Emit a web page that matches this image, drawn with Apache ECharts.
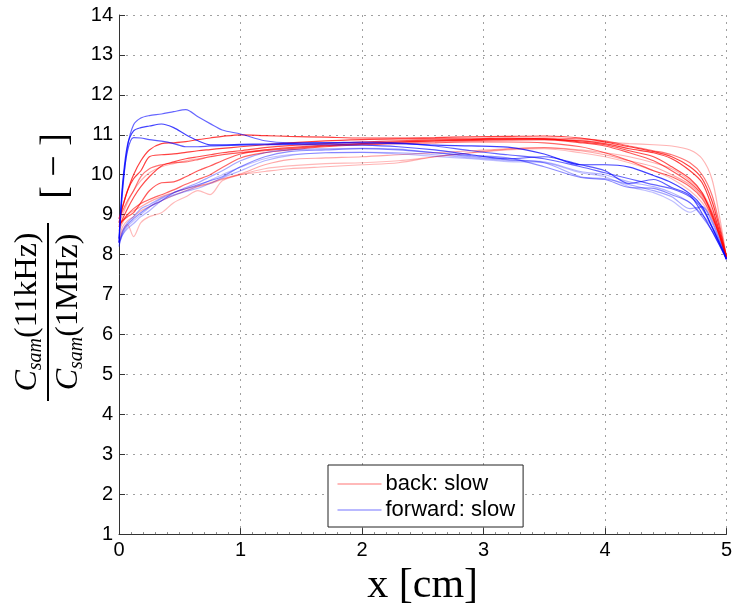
<!DOCTYPE html>
<html>
<head>
<meta charset="utf-8">
<script src="https://cdn.jsdelivr.net/npm/echarts@6/dist/echarts.min.js"></script>
<style>html,body{margin:0;padding:0;background:#fff}#c{width:735px;height:612px}</style>
</head>
<body>
<div id="c"></div>
<script>
// x positions (cm) shared by every curve
const xs = [0, 0.03, 0.07, 0.12, 0.18, 0.25, 0.35, 0.45, 0.55, 0.65, 0.75, 0.85, 1.0, 1.2, 1.4, 1.7, 2.0, 2.3, 2.6, 2.9, 3.2, 3.5, 3.8, 4.0, 4.2, 4.4, 4.55, 4.7, 4.8, 4.88, 4.94, 5.0];

// back: slow (red) curves
const back1 = [8.9, 9.2, 9.6, 10.0, 10.35, 10.62, 10.78, 10.8, 10.83, 10.88, 10.92, 10.96, 11.0, 10.98, 10.96, 10.94, 10.92, 10.92, 10.93, 10.95, 10.96, 10.97, 10.92, 10.82, 10.7, 10.58, 10.45, 10.2, 9.9, 9.35, 8.7, 7.95];
const back2 = [8.8, 9.2, 9.6, 9.9, 10.1, 10.45, 10.5, 10.52, 10.56, 10.6, 10.63, 10.66, 10.7, 10.75, 10.8, 10.85, 10.88, 10.9, 10.9, 10.9, 10.92, 10.9, 10.85, 10.78, 10.65, 10.55, 10.4, 10.1, 9.8, 9.2, 8.6, 7.95];
const back3 = [8.7, 8.9, 9.15, 9.43, 9.7, 9.95, 10.22, 10.32, 10.4, 10.45, 10.5, 10.55, 10.6, 10.68, 10.73, 10.78, 10.82, 10.85, 10.87, 10.88, 10.9, 10.9, 10.82, 10.75, 10.6, 10.45, 10.2, 9.9, 9.55, 9.0, 8.5, 7.92];
const back4 = [8.75, 8.85, 8.95, 9.05, 9.3, 9.6, 9.8, 9.82, 9.95, 10.1, 10.22, 10.35, 10.52, 10.62, 10.68, 10.74, 10.78, 10.82, 10.85, 10.86, 10.88, 10.88, 10.8, 10.72, 10.55, 10.35, 10.1, 9.8, 9.5, 9.05, 8.55, 7.9];
const back5 = [8.7, 8.85, 9.0, 9.15, 9.28, 9.38, 9.5, 9.62, 9.76, 9.88, 10.0, 10.18, 10.42, 10.55, 10.62, 10.7, 10.75, 10.78, 10.8, 10.82, 10.82, 10.8, 10.7, 10.55, 10.35, 10.1, 9.95, 9.7, 9.4, 8.95, 8.5, 7.9];
const back6 = [8.9, 9.1, 9.35, 9.6, 9.95, 10.15, 10.25, 10.3, 10.32, 10.38, 10.45, 10.5, 10.55, 10.6, 10.65, 10.72, 10.78, 10.82, 10.85, 10.88, 10.9, 10.92, 10.9, 10.85, 10.72, 10.6, 10.5, 10.3, 10.0, 9.5, 8.8, 7.95];
const back7 = [8.8, 9.0, 9.3, 9.6, 9.85, 10.05, 10.2, 10.28, 10.35, 10.4, 10.45, 10.5, 10.56, 10.62, 10.66, 10.72, 10.76, 10.8, 10.82, 10.84, 10.86, 10.88, 10.86, 10.82, 10.78, 10.75, 10.72, 10.62, 10.4, 9.9, 9.0, 7.95];
const back8 = [8.3, 8.6, 8.75, 8.45, 8.8, 8.95, 9.05, 9.3, 9.45, 9.6, 9.5, 9.85, 10.0, 10.15, 10.22, 10.28, 10.3, 10.35, 10.45, 10.55, 10.62, 10.65, 10.55, 10.45, 10.3, 10.1, 9.9, 9.6, 9.3, 8.9, 8.45, 7.9];
const back9 = [8.4, 8.7, 8.85, 8.95, 9.1, 9.2, 9.35, 9.48, 9.6, 9.7, 9.78, 9.88, 10.0, 10.08, 10.15, 10.2, 10.25, 10.3, 10.45, 10.55, 10.64, 10.68, 10.62, 10.55, 10.45, 10.3, 10.15, 9.85, 9.55, 9.1, 8.6, 7.9];
const back10 = [8.6, 8.8, 9.0, 9.1, 9.2, 9.32, 9.45, 9.55, 9.65, 9.72, 9.8, 9.9, 10.02, 10.25, 10.38, 10.42, 10.45, 10.5, 10.55, 10.6, 10.65, 10.68, 10.6, 10.5, 10.35, 10.2, 10.0, 9.75, 9.45, 9.0, 8.5, 7.9];

// forward: slow (blue) curves
const fwd1 = [8.3, 9.6, 10.7, 11.25, 11.42, 11.48, 11.52, 11.58, 11.63, 11.45, 11.28, 11.12, 11.02, 10.85, 10.8, 10.8, 10.82, 10.8, 10.72, 10.6, 10.5, 10.4, 10.2, 10.05, 9.9, 9.75, 9.65, 9.45, 9.15, 8.7, 8.3, 7.9];
const fwd2 = [8.4, 9.8, 10.75, 11.1, 11.18, 11.22, 11.27, 11.18, 11.0, 10.85, 10.75, 10.75, 10.76, 10.77, 10.78, 10.8, 10.8, 10.78, 10.74, 10.72, 10.69, 10.52, 10.25, 10.25, 10.19, 9.98, 9.8, 9.52, 9.2, 8.7, 8.3, 7.88];
const fwd3 = [8.3, 9.7, 10.6, 10.93, 10.92, 10.88, 10.84, 10.78, 10.7, 10.7, 10.72, 10.73, 10.74, 10.75, 10.76, 10.75, 10.74, 10.7, 10.62, 10.5, 10.4, 10.45, 10.25, 10.1, 9.78, 9.88, 9.68, 9.48, 9.03, 8.6, 8.25, 7.88];
const fwd4 = [8.3, 8.6, 8.8, 8.95, 9.15, 9.25, 9.42, 9.55, 9.68, 9.8, 9.95, 10.1, 10.35, 10.55, 10.62, 10.65, 10.66, 10.64, 10.55, 10.45, 10.38, 10.3, 9.95, 9.9, 9.75, 9.6, 9.45, 9.15, 9.2, 8.85, 8.4, 7.9];
const fwd5 = [8.3, 8.5, 8.65, 8.78, 8.95, 9.1, 9.35, 9.48, 9.58, 9.66, 9.78, 9.92, 10.1, 10.35, 10.48, 10.55, 10.56, 10.55, 10.5, 10.42, 10.36, 10.32, 10.08, 10.0, 9.82, 9.7, 9.55, 9.3, 9.0, 8.7, 8.35, 7.9];
const fwd6 = [8.2, 8.55, 8.75, 8.9, 9.05, 9.2, 9.35, 9.55, 9.65, 9.75, 9.85, 9.95, 10.2, 10.45, 10.58, 10.62, 10.65, 10.62, 10.55, 10.48, 10.42, 10.2, 9.93, 9.88, 9.68, 9.66, 9.5, 9.3, 8.95, 8.6, 8.25, 7.88];
const fwd7 = [8.25, 8.5, 8.7, 8.85, 9.0, 9.18, 9.4, 9.5, 9.6, 9.72, 9.86, 10.0, 10.19, 10.4, 10.5, 10.55, 10.56, 10.52, 10.46, 10.4, 10.33, 10.3, 10.05, 9.95, 9.7, 9.55, 9.35, 9.06, 9.2, 8.8, 8.35, 7.9];

const backSeries = [[back1, 0.75], [back2, 0.75], [back3, 0.7], [back4, 0.65], [back5, 0.6], [back6, 0.55], [back7, 0.3], [back8, 0.28], [back9, 0.3], [back10, 0.35]];
const fwdSeries = [[fwd1, 0.6], [fwd2, 0.75], [fwd3, 0.65], [fwd4, 0.35], [fwd5, 0.3], [fwd6, 0.45], [fwd7, 0.25]];

const xTicks = [0, 1, 2, 3, 4, 5];
const yTicks = [1,2,3,4,5,6,7,8,9,10,11,12,13,14];

function mk(name, ys, color, op) {
  return {
    name: name, type: 'line', symbol: 'none', smooth: 0.3,
    data: xs.map((x, i) => [x, ys[i]]),
    lineStyle: { color: color, width: 1.2, opacity: op },
    itemStyle: { color: color, opacity: op },
    emphasis: { disabled: true }, animation: false
  };
}
const series = [];
backSeries.forEach(s => series.push(mk('back: slow', s[0], '#ff0000', s[1])));
fwdSeries.forEach(s => series.push(mk('forward: slow', s[0], '#0000ff', s[1])));

const chart = echarts.init(document.getElementById('c'), null, { renderer: 'canvas' });
const lab = { fontFamily: 'Liberation Sans', fontSize: 20, color: '#000' };
const grid = { show: true, lineStyle: { type: [2, 5], color: '#a0a0a0', width: 1 } };
chart.setOption({
  animation: false,
  backgroundColor: '#fff',
  grid: { left: 119, right: 6.5, top: 15, bottom: 77, containLabel: false },
  xAxis: {
    type: 'value', min: xTicks[0], max: xTicks[xTicks.length - 1], interval: 1,
    name: 'x [cm]', nameLocation: 'middle', nameGap: 22,
    nameTextStyle: { fontFamily: 'Liberation Serif', fontSize: 42, color: '#000', verticalAlign: 'top' },
    axisLine: { show: true, lineStyle: { color: '#333', width: 1 } },
    axisTick: { show: true, inside: true, length: 6, lineStyle: { color: '#333' } },
    minorTick: { show: true, splitNumber: 10, length: 2, lineStyle: { color: '#888' } },
    axisLabel: Object.assign({ margin: 6 }, lab),
    splitLine: grid
  },
  yAxis: {
    type: 'value', min: yTicks[0], max: yTicks[yTicks.length - 1], interval: 1,
    axisLine: { show: true, lineStyle: { color: '#333', width: 1 } },
    axisTick: { show: true, inside: true, length: 6, lineStyle: { color: '#333' } },
    axisLabel: Object.assign({ margin: 6 }, lab),
    splitLine: grid
  },
  legend: {
    data: ['back: slow', 'forward: slow'],
    orient: 'vertical', left: 328, top: 465,
    padding: [8, 8, 6, 9], itemGap: 4, itemWidth: 44, itemHeight: 10,
    itemStyle: { opacity: 0 },
    lineStyle: { width: 1, opacity: 0.55 },
    backgroundColor: '#fff', borderColor: '#222', borderWidth: 1, borderRadius: 0,
    textStyle: { fontFamily: 'Liberation Sans', fontSize: 22, color: '#000', lineHeight: 22, padding: [0, 0, 0, -1] },
    selectedMode: false, z: 10
  },
  graphic: [{
    type: 'group', x: 48, y: 312, rotation: Math.PI / 2,
    children: [
      { type: 'text', x: 0, y: -20, style: {
          text: '{c|C}{s|sam}{p|(11kHz)}', align: 'center', verticalAlign: 'middle',
          rich: {
            c: { fontFamily: 'Liberation Serif', fontStyle: 'italic', fontSize: 32, lineHeight: 36, verticalAlign: 'middle' },
            s: { fontFamily: 'Liberation Serif', fontStyle: 'italic', fontSize: 20, lineHeight: 36, verticalAlign: 'bottom', padding: [10, 0, 0, 0] },
            p: { fontFamily: 'Liberation Serif', fontSize: 32, lineHeight: 36, verticalAlign: 'middle' }
          }, fill: '#000' } },
      { type: 'line', shape: { x1: -89, y1: 0, x2: 89, y2: 0 }, style: { stroke: '#000', lineWidth: 2 } },
      { type: 'text', x: 0, y: 21, style: {
          text: '{c|C}{s|sam}{p|(1MHz)}', align: 'center', verticalAlign: 'middle',
          rich: {
            c: { fontFamily: 'Liberation Serif', fontStyle: 'italic', fontSize: 32, lineHeight: 36, verticalAlign: 'middle' },
            s: { fontFamily: 'Liberation Serif', fontStyle: 'italic', fontSize: 20, lineHeight: 36, verticalAlign: 'bottom', padding: [10, 0, 0, 0] },
            p: { fontFamily: 'Liberation Serif', fontSize: 32, lineHeight: 36, verticalAlign: 'middle' }
          }, fill: '#000' } },
      { type: 'text', x: 146, y: 8, style: {
          text: '[ \u2212 ]', align: 'center', verticalAlign: 'middle',
          font: '38px "Liberation Serif"', fill: '#000' } }
    ]
  }],
  series: series
});
</script>
</body>
</html>
